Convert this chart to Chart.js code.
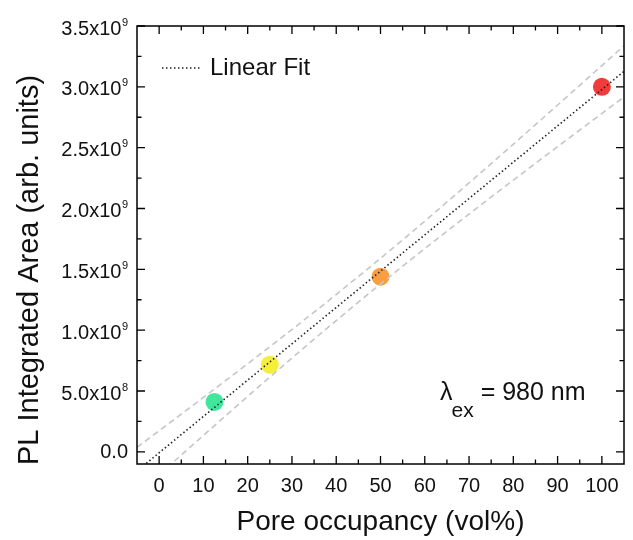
<!DOCTYPE html>
<html>
<head>
<meta charset="utf-8">
<script src="https://cdn.jsdelivr.net/npm/chart.js@4.4.1/dist/chart.umd.min.js"></script>
<style>
  html, body { margin: 0; padding: 0; background: #fff; }
  #wrap { width: 633px; height: 540px; }
</style>
</head>
<body>
<div id="wrap"><canvas id="plChart" width="633" height="540"></canvas></div>
<script>
// PL integrated area vs. pore occupancy, excitation at 980 nm
const occupancy = [12.5, 25, 50, 100];
const plArea = [0.41e9, 0.716e9, 1.44e9, 3.0e9];
const pointColors = ['#3fe69c', '#f6ef3a', '#f99f42', '#f23b3b'];

// linear fit, taken at the axis limits
const fitX = [-5, 105];
const fitY = [-0.157e9, 3.127e9];

// confidence band around the fit
const bandX = [-5, 10, 25, 40, 55, 70, 85, 105];
const bandUpper = [0.037e9, 0.447e9, 0.864e9, 1.293e9, 1.742e9, 2.21e9, 2.689e9, 3.337e9];
const bandLower = [-0.351e9, 0.135e9, 0.614e9, 1.079e9, 1.526e9, 1.954e9, 2.371e9, 2.917e9];

// axes
const xTicks = [0, 10, 20, 30, 40, 50, 60, 70, 80, 90, 100];
const xMinor = [5, 15, 25, 35, 45, 55, 65, 75, 85, 95];
const yTicks = [0, 0.5e9, 1.0e9, 1.5e9, 2.0e9, 2.5e9, 3.0e9, 3.5e9];
const yMinor = [0.25e9, 0.75e9, 1.25e9, 1.75e9, 2.25e9, 2.75e9, 3.25e9];
const yTickText = ['0.0', '5.0x10', '1.0x10', '1.5x10', '2.0x10', '2.5x10', '3.0x10', '3.5x10'];
const yTickExp = ['', '8', '9', '9', '9', '9', '9', '9'];

const FONT = "'Liberation Sans', Arial, sans-serif";
const toXY = (xs, ys) => xs.map((v, i) => ({ x: v, y: ys[i] }));

// box frame with inward ticks on all four sides, y labels with exponents
const frameTicks = {
    id: 'frameTicks',
    afterDraw(chart) {
        const { ctx, chartArea: a, scales: { x, y } } = chart;
        ctx.save();
        ctx.strokeStyle = '#000';
        ctx.lineWidth = 1.5;
        ctx.strokeRect(a.left, a.top, a.right - a.left, a.bottom - a.top);

        ctx.lineWidth = 1.3;
        ctx.beginPath();
        const seg = (px, py, dx, dy) => { ctx.moveTo(px, py); ctx.lineTo(px + dx, py + dy); };
        xTicks.forEach(v => { const p = x.getPixelForValue(v); seg(p, a.bottom, 0, -8); seg(p, a.top, 0, 8); });
        xMinor.forEach(v => { const p = x.getPixelForValue(v); seg(p, a.bottom, 0, -4.5); seg(p, a.top, 0, 4.5); });
        yTicks.forEach(v => { const p = y.getPixelForValue(v); seg(a.left, p, 8, 0); seg(a.right, p, -8, 0); });
        yMinor.forEach(v => { const p = y.getPixelForValue(v); seg(a.left, p, 4.5, 0); seg(a.right, p, -4.5, 0); });
        ctx.stroke();

        // y tick labels
        ctx.fillStyle = '#111';
        ctx.textBaseline = 'alphabetic';
        const right = a.left - 9;
        yTicks.forEach((v, i) => {
            const p = y.getPixelForValue(v);
            const exp = yTickExp[i];
            if (!exp) {
                ctx.font = `20px ${FONT}`;
                ctx.textAlign = 'right';
                ctx.fillText(yTickText[i], right, p + 6);
                return;
            }
            ctx.font = `11px ${FONT}`;
            const ew = ctx.measureText(exp).width;
            ctx.textAlign = 'left';
            ctx.fillText(exp, right - ew, p - 0.5);
            ctx.font = `20px ${FONT}`;
            ctx.textAlign = 'right';
            ctx.fillText(yTickText[i], right - ew - 0.5, p + 8.5);
        });

        // y axis title
        ctx.save();
        ctx.translate(38, 270);
        ctx.rotate(-Math.PI / 2);
        ctx.font = `29px ${FONT}`;
        ctx.textAlign = 'center';
        ctx.fillText('PL Integrated Area (arb. units)', 0, 0);
        ctx.restore();

        // legend for the fit
        ctx.strokeStyle = '#222';
        ctx.lineWidth = 1.6;
        ctx.setLineDash([1.5, 2.5]);
        ctx.beginPath();
        ctx.moveTo(162, 68);
        ctx.lineTo(200, 68);
        ctx.stroke();
        ctx.setLineDash([]);
        ctx.font = `24px ${FONT}`;
        ctx.textAlign = 'left';
        ctx.fillText(chart.data.datasets[0].label, 210, 74.5);

        // excitation wavelength note
        let tx = 440;
        ctx.font = `25px ${FONT}`;
        ctx.fillText('\u03bb', tx, 400);
        tx += ctx.measureText('\u03bb').width - 1;
        ctx.font = `21px ${FONT}`;
        ctx.fillText('ex', tx, 417);
        tx += ctx.measureText('ex').width;
        ctx.font = `25px ${FONT}`;
        ctx.fillText(' = 980 nm', tx, 400);
        ctx.restore();
    }
};

const ctx = document.getElementById('plChart').getContext('2d');
const plChart = new Chart(ctx, {
    type: 'scatter',
    data: {
        datasets: [
            {
                label: 'Linear Fit',
                type: 'line',
                data: toXY(fitX, fitY),
                borderColor: '#222',
                borderWidth: 1.6,
                borderDash: [1.5, 2.5],
                pointRadius: 0,
                fill: false,
                order: 1
            },
            {
                label: 'Upper band',
                type: 'line',
                data: toXY(bandX, bandUpper),
                borderColor: '#c6c6c6',
                borderWidth: 1.6,
                borderDash: [6, 4],
                cubicInterpolationMode: 'monotone',
                pointRadius: 0,
                fill: false,
                order: 2
            },
            {
                label: 'Lower band',
                type: 'line',
                data: toXY(bandX, bandLower),
                borderColor: '#c6c6c6',
                borderWidth: 1.6,
                borderDash: [6, 4],
                cubicInterpolationMode: 'monotone',
                pointRadius: 0,
                fill: false,
                order: 2
            },
            {
                label: 'PL area',
                data: toXY(occupancy, plArea),
                backgroundColor: pointColors,
                borderWidth: 0,
                pointRadius: 9,
                order: 5
            }
        ]
    },
    options: {
        responsive: false,
        animation: false,
        events: [],
        layout: { padding: { top: 26, right: 1, left: 0, bottom: 0 } },
        scales: {
            x: {
                type: 'linear',
                min: -5,
                max: 105,
                afterBuildTicks: scale => { scale.ticks = xTicks.map(v => ({ value: v })); },
                afterFit: scale => { scale.height = 76; },
                grid: { display: false, drawTicks: false },
                border: { display: false },
                ticks: {
                    color: '#111',
                    padding: 10,
                    maxRotation: 0,
                    font: { family: FONT, size: 20 }
                },
                title: {
                    display: true,
                    text: 'Pore occupancy (vol%)',
                    color: '#111',
                    padding: { top: 0, bottom: 1 },
                    font: { family: FONT, size: 28 }
                }
            },
            y: {
                type: 'linear',
                min: -0.1e9,
                max: 3.5e9,
                afterBuildTicks: scale => { scale.ticks = yTicks.map(v => ({ value: v })); },
                afterFit: scale => { scale.width = 137; },
                grid: { display: false, drawTicks: false },
                border: { display: false },
                ticks: { display: false }
            }
        },
        plugins: {
            legend: { display: false },
            tooltip: { enabled: false }
        }
    },
    plugins: [frameTicks]
});
</script>
</body>
</html>
